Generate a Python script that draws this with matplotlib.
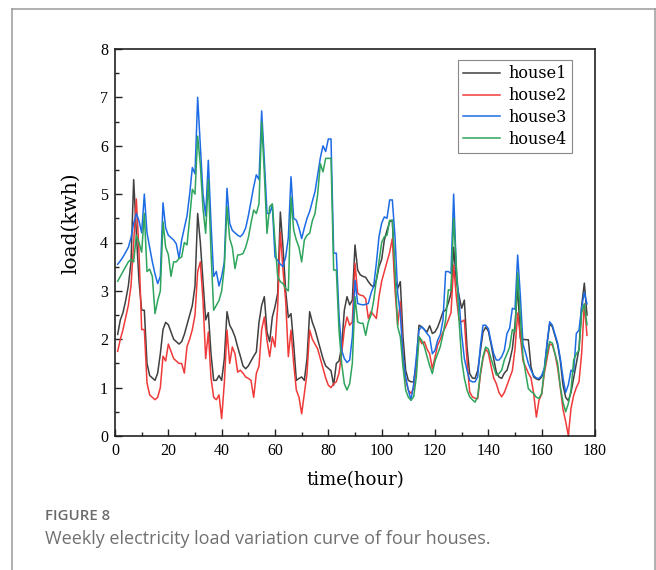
import numpy as np
import matplotlib
matplotlib.use('Agg')
import matplotlib.pyplot as plt
from matplotlib.lines import Line2D
from matplotlib.ticker import MultipleLocator

# hourly load (kwh), hours 1..177
hours = np.arange(1, 178)

house1 = [
    2.10, 2.40, 2.55, 2.80, 3.10, 3.60, 5.30, 4.20, 3.20, 2.60,
    2.60, 1.50, 1.25, 1.20, 1.15, 1.30, 1.70, 2.20, 2.35, 2.30,
    2.15, 2.00, 1.95, 1.90, 1.95, 2.10, 2.30, 2.50, 2.70, 3.10,
    4.60, 4.00, 3.20, 2.40, 2.55, 1.70, 1.15, 1.15, 1.25, 1.15,
    1.60, 2.57, 2.29, 2.19, 2.05, 1.84, 1.65, 1.45, 1.39, 1.45,
    1.55, 1.65, 1.74, 2.35, 2.70, 2.88, 2.15, 1.95, 2.46, 2.67,
    2.95, 4.63, 3.90, 3.00, 2.45, 2.53, 1.90, 1.15, 1.19, 1.22,
    1.15, 1.60, 2.57, 2.35, 2.20, 2.00, 1.80, 1.60, 1.45, 1.40,
    1.35, 1.05, 1.50, 1.55, 1.85, 2.60, 2.88, 2.71, 2.81, 3.95,
    3.43, 3.33, 3.30, 3.28, 3.19, 3.12, 3.08, 3.22, 3.50, 3.65,
    4.05, 4.25, 4.43, 4.46, 3.22, 3.05, 3.19, 2.05, 1.36, 1.15,
    1.12, 1.12, 1.50, 2.29, 2.26, 2.20, 2.15, 2.28, 2.12, 2.15,
    2.25, 2.40, 2.57, 2.60, 2.75, 2.95, 3.90, 3.20, 2.90, 2.64,
    2.81, 1.84, 1.29, 1.20, 1.19, 1.35, 1.75, 2.15, 2.25, 2.17,
    1.90, 1.60, 1.32, 1.22, 1.19, 1.30, 1.36, 1.55, 1.80, 2.30,
    3.10, 2.02, 2.00, 1.99, 1.99, 1.43, 1.22, 1.18, 1.16, 1.22,
    1.37, 1.88, 2.32, 2.26, 2.07, 1.88, 1.55, 1.05, 0.80, 0.73,
    0.90, 1.20, 1.50, 1.80, 2.70, 3.16, 2.50,
]

house2 = [
    1.75, 2.00, 2.20, 2.45, 2.70, 3.10, 4.00, 4.90, 3.80, 2.20,
    2.20, 1.10, 0.85, 0.80, 0.75, 0.80, 1.00, 1.65, 1.55, 1.90,
    1.75, 1.60, 1.55, 1.50, 1.50, 1.30, 1.85, 2.00, 2.20, 2.50,
    3.40, 3.60, 2.80, 1.60, 2.15, 1.20, 0.80, 0.75, 0.85, 0.36,
    1.10, 2.19, 1.50, 1.84, 1.70, 1.32, 1.36, 1.30, 1.22, 1.19,
    1.15, 0.80, 1.29, 1.45, 2.20, 2.46, 1.98, 1.64, 2.05, 1.84,
    2.67, 4.22, 3.43, 2.80, 1.64, 2.19, 1.50, 0.95, 0.80, 0.46,
    0.88, 1.29, 2.19, 2.00, 1.90, 1.80, 1.60, 1.40, 1.20, 1.05,
    1.00, 1.08, 1.12, 1.30, 1.70, 2.20, 2.46, 2.29, 2.36, 3.57,
    2.95, 2.91, 2.90, 2.84, 2.43, 2.57, 2.50, 2.43, 2.88, 3.20,
    3.40, 3.60, 3.80, 4.08, 3.02, 2.29, 2.78, 1.64, 1.15, 0.95,
    0.88, 0.98, 1.43, 2.05, 1.91, 1.95, 1.80, 1.70, 1.39, 1.64,
    1.88, 2.00, 2.15, 2.26, 2.40, 2.55, 3.53, 2.88, 2.40, 2.36,
    2.40, 1.57, 0.91, 0.81, 0.78, 0.77, 1.25, 1.60, 1.80, 1.72,
    1.45, 1.20, 1.08, 0.90, 0.81, 0.90, 1.05, 1.20, 1.35, 1.80,
    2.54, 2.06, 1.55, 1.43, 1.30, 1.20, 0.88, 0.39, 0.74, 0.86,
    1.30, 1.60, 1.90, 1.88, 1.70, 1.40, 1.00, 0.55, 0.30, 0.01,
    0.57, 0.84, 1.00, 1.12, 1.71, 2.73, 2.08,
]

house3 = [
    3.55, 3.62, 3.70, 3.80, 3.90, 4.10, 4.40, 4.60, 4.45, 4.20,
    5.00, 4.20, 3.90, 3.60, 3.35, 3.15, 3.30, 4.82, 4.30, 4.15,
    4.10, 4.05, 3.97, 3.67, 4.05, 4.30, 4.55, 5.00, 5.55, 5.42,
    7.00, 6.00, 5.00, 4.55, 5.70, 4.40, 3.30, 3.40, 3.10, 3.30,
    3.60, 5.12, 4.40, 4.25, 4.20, 4.15, 4.12, 4.18, 4.30, 4.55,
    4.85, 5.15, 5.40, 5.30, 6.72, 5.70, 4.60, 4.60, 4.77, 3.70,
    3.63, 3.55, 3.50, 3.70, 4.10, 5.36, 4.50, 4.46, 4.30, 4.08,
    4.30, 4.50, 4.64, 4.85, 5.05, 5.40, 5.75, 6.00, 5.88, 6.14,
    6.14, 3.78, 3.78, 2.50, 1.77, 1.60, 1.52, 1.57, 2.05, 3.22,
    2.74, 2.72, 2.71, 2.72, 2.74, 2.95, 3.10, 3.57, 4.12, 4.40,
    4.53, 4.50, 4.88, 4.88, 4.12, 2.95, 2.53, 1.64, 1.22, 0.95,
    0.74, 1.08, 1.64, 2.19, 2.26, 2.20, 2.12, 2.05, 1.70, 1.77,
    1.98, 2.10, 2.40, 3.40, 3.40, 3.36, 5.00, 3.43, 2.80, 2.10,
    1.60, 1.36, 1.15, 1.12, 1.12, 1.22, 1.84, 2.29, 2.29, 2.22,
    1.95, 1.70, 1.57, 1.57, 1.64, 1.77, 2.12, 2.23, 2.64, 2.62,
    3.74, 2.90, 1.90, 1.71, 1.50, 1.36, 1.25, 1.20, 1.19, 1.25,
    1.40, 1.92, 2.36, 2.29, 2.10, 1.92, 1.60, 1.20, 0.90, 1.06,
    1.36, 1.33, 2.12, 2.19, 2.66, 2.97, 2.73,
]

house4 = [
    3.20, 3.30, 3.40, 3.50, 3.60, 3.65, 3.60, 4.15, 4.00, 3.80,
    4.60, 3.40, 3.45, 3.30, 2.53, 2.80, 3.00, 4.43, 3.90, 3.75,
    3.30, 3.60, 3.60, 3.67, 3.70, 4.00, 3.95, 4.50, 5.10, 5.00,
    6.20, 5.60, 4.70, 4.19, 5.30, 3.80, 2.60, 2.70, 2.80, 3.00,
    3.50, 4.74, 4.08, 3.90, 3.46, 3.74, 3.75, 3.77, 3.90, 4.10,
    4.40, 4.67, 4.60, 4.80, 6.50, 5.43, 4.19, 4.74, 4.80, 4.02,
    3.30, 3.19, 3.15, 3.05, 3.00, 4.94, 4.26, 4.05, 3.90, 3.60,
    4.05, 4.15, 4.19, 4.45, 4.60, 5.00, 5.63, 5.46, 5.74, 5.74,
    5.74, 3.43, 3.43, 2.19, 1.50, 1.08, 0.95, 1.08, 1.50, 2.88,
    2.36, 2.33, 2.33, 2.08, 2.36, 2.50, 2.80, 3.22, 3.60, 4.00,
    4.12, 4.15, 4.46, 4.46, 3.43, 2.26, 2.05, 1.43, 0.95, 0.80,
    0.74, 0.81, 1.22, 2.05, 1.98, 1.85, 1.65, 1.45, 1.29, 1.55,
    1.70, 1.85, 2.10, 2.40, 3.02, 3.02, 4.50, 3.50, 2.40, 1.57,
    1.20, 0.95, 0.81, 0.75, 0.70, 0.81, 1.30, 1.64, 1.84, 1.80,
    1.60, 1.43, 1.26, 1.29, 1.36, 1.57, 1.70, 1.84, 2.20, 2.16,
    3.37, 2.47, 1.64, 1.30, 0.98, 0.92, 0.88, 0.80, 0.78, 0.88,
    1.36, 1.70, 1.95, 1.92, 1.70, 1.50, 1.02, 0.70, 0.50, 0.67,
    0.95, 1.57, 1.70, 1.77, 2.54, 2.73, 2.30,
]

labels = ['house1', 'house2', 'house3', 'house4']
colors = ['#404040', '#f03a3a', '#1d6ce6', '#2ea45c']

serif = ['Liberation Serif', 'DejaVu Serif']
wide = ['DejaVu Serif']

fig = plt.figure(figsize=(6.56, 5.70), dpi=100)
ax = fig.add_axes([115 / 656, 1 - 436 / 570, 480 / 656, 387 / 570])

for ys, lab, c in zip([house1, house2, house3, house4], labels, colors):
    ax.plot(hours, ys, color=c, lw=1.1, label=lab)

ax.set_xlim(0, 180)
ax.set_ylim(0, 8)
ax.xaxis.set_major_locator(MultipleLocator(20))
ax.xaxis.set_minor_locator(MultipleLocator(10))
ax.yaxis.set_major_locator(MultipleLocator(1))
ax.yaxis.set_minor_locator(MultipleLocator(0.5))
ax.tick_params(which='both', direction='in', top=False, right=False,
               width=1.0, color='#222222')
ax.tick_params(which='major', length=5, labelsize=11.5, pad=5)
ax.tick_params(which='minor', length=3)
for lab in ax.get_xticklabels() + ax.get_yticklabels():
    lab.set_family(serif)
for sp in ax.spines.values():
    sp.set_linewidth(1.2)
    sp.set_color('#222222')

ax.set_xlabel('time(hour)', family=wide, fontsize=13, labelpad=9)
ax.set_ylabel('load(kwh)', family=wide, fontsize=14.5)
ax.yaxis.set_label_coords(-0.072, 0.55)

leg = ax.legend(loc='upper right', bbox_to_anchor=(0.952, 0.972),
                fancybox=False, edgecolor='#888888', framealpha=1,
                prop={'family': wide, 'size': 11.5}, handlelength=2.3,
                handletextpad=0.5, borderpad=0.35, labelspacing=0.3,
                borderaxespad=0.0)
leg.get_frame().set_linewidth(0.8)

# caption below the chart
fig.text(45 / 656, 1 - 516 / 570, 'FIGURE 8', family='Open Sans',
         fontweight='semibold', fontsize=10.8, color='#6b6b6b', va='center')
fig.text(45 / 656, 1 - 539 / 570,
         'Weekly electricity load variation curve of four houses.',
         family='Open Sans', fontsize=13, color='#707070', va='center')

# page panel border
fc = '#9a9a9a'
fig.add_artist(Line2D([12 / 656, 12 / 656], [0, 1 - 9 / 570], color=fc, lw=1.1))
fig.add_artist(Line2D([12 / 656, 1], [1 - 9 / 570, 1 - 9 / 570], color=fc, lw=1.1))
fig.add_artist(Line2D([655 / 656, 655 / 656], [0, 1 - 9 / 570], color=fc, lw=1.1))

fig.savefig('out.png', dpi=100)
